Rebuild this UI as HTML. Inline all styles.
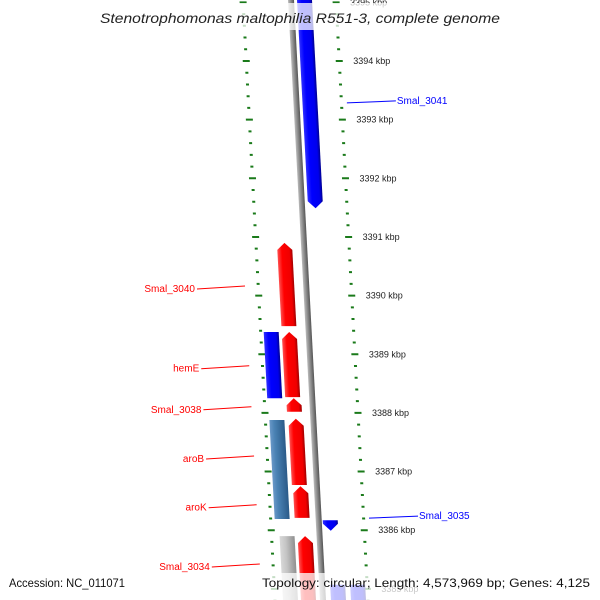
<!DOCTYPE html>
<html><head><meta charset="utf-8"><style>
html,body{margin:0;background:#fff;width:600px;height:600px;overflow:hidden}
svg{display:block;font-family:"Liberation Sans",sans-serif}
</style></head><body>
<svg id="map" width="600" height="600" viewBox="0 0 600 600">
<defs>
<clipPath id="frame"><rect x="0" y="0" width="600" height="600"/></clipPath>
<linearGradient id="gRed" x1="0" x2="1"><stop offset="0" stop-color="#ff5050"/><stop offset="0.3" stop-color="#ff0000"/><stop offset="0.8" stop-color="#f00000"/><stop offset="1" stop-color="#a00000"/></linearGradient>
<linearGradient id="gBlue" x1="0" x2="1"><stop offset="0" stop-color="#3030ff"/><stop offset="0.3" stop-color="#0000ff"/><stop offset="0.8" stop-color="#0000ee"/><stop offset="1" stop-color="#000090"/></linearGradient>
<linearGradient id="gSteel" x1="0" x2="1"><stop offset="0" stop-color="#6a98c8"/><stop offset="0.3" stop-color="#4a82b4"/><stop offset="1" stop-color="#2a5a88"/></linearGradient>
<linearGradient id="gGray" x1="0" x2="1"><stop offset="0" stop-color="#d8d8d8"/><stop offset="0.4" stop-color="#c4c4c4"/><stop offset="1" stop-color="#909090"/></linearGradient>
<linearGradient id="gBack" x1="0" x2="1"><stop offset="0" stop-color="#bbb"/><stop offset="0.5" stop-color="#888"/><stop offset="1" stop-color="#555"/></linearGradient>
</defs>
<g clip-path="url(#frame)">
<g id="skewed" transform="skewX(3.05)">
<rect x="288" y="-20" width="6" height="640" fill="url(#gBack)"/>
<g id="ticks"></g>
<g id="features"></g>
</g>
<g id="labels"></g>
</g>
<rect x="0" y="3" width="600" height="27" fill="#fff" fill-opacity="0.75"/>
<text x="100" y="23" textLength="400" lengthAdjust="spacingAndGlyphs" font-size="14" font-style="italic" fill="#222">Stenotrophomonas maltophilia R551-3, complete genome</text>
<rect x="0" y="573" width="600" height="27" fill="#fff" fill-opacity="0.75"/>
<text x="9" y="587" textLength="116" lengthAdjust="spacingAndGlyphs" font-size="12" fill="#111">Accession: NC_011071</text>
<text x="262" y="587" textLength="328" lengthAdjust="spacingAndGlyphs" font-size="12" fill="#111">Topology: circular; Length: 4,573,969 bp; Genes: 4,125</text>
</svg>
<script>
const tickMajors = [3395, 3394, 3393, 3392, 3391, 3390, 3389, 3388, 3387, 3386, 3385];
const tickLabels = ["3395 kbp","3394 kbp","3393 kbp","3392 kbp","3391 kbp","3390 kbp","3389 kbp","3388 kbp","3387 kbp","3386 kbp","3385 kbp"];
const featNames = ["Smal_3041","Smal_3040","hemE","hemE-r","Smal_3038","aroB","aroB-r","aroK","Smal_3035","Smal_3034-g","Smal_3034","bottom-a","bottom-b"];
const featStart = [3395.4, 3390.90, 3389.38, 3389.38, 3388.25, 3387.88, 3387.90, 3386.75, 3386.17, 3385.90, 3385.90, 3385.07, 3385.07];
const featEnd   = [3391.49, 3389.48, 3388.25, 3388.27, 3388.02, 3386.19, 3386.77, 3386.21, 3385.99, 3384.4, 3384.4, 3384.4, 3384.4];
const featColor = ["blue","red","blue","red","red","steel","red","red","blue","gray","red","blue","blue"];
const featStrand= [-1,1,0,1,1,0,1,1,-1,0,1,-1,-1];
const featCol   = [297,264,246,264,265,247,266,267,295,251,269,299,319];
const labelText = ["Smal_3041","Smal_3040","hemE","Smal_3038","aroB","aroK","Smal_3035","Smal_3034"];
const labelKbp  = [3393.32, 3390.13, 3388.77, 3388.07, 3387.23, 3386.40, 3386.24, 3385.39];
const labelSide = [1,-1,-1,-1,-1,-1,1,-1];

const NS="http://www.w3.org/2000/svg";
const yOf = k => 61 + (3394 - k) * 58.65;
const SK = Math.tan(3.05*Math.PI/180);
function mk(tag, attrs, parent){const e=document.createElementNS(NS,tag);for(const a in attrs)e.setAttribute(a,attrs[a]);parent.appendChild(e);return e;}
const ticks=document.getElementById('ticks'), feats=document.getElementById('features'), labels=document.getElementById('labels');

for(let i=0;i<tickMajors.length;i++){
  for(let j=0;j<5;j++){
    const k=tickMajors[i]-j*0.2, y=yOf(k), major=j===0;
    const w=major?7:3;
    let t=mk('rect',{x:243-w/2,y:y-1,width:w,height:2,fill:'#1a7a1a'},ticks);
    
    
    t=mk('rect',{x:336-w/2,y:y-1,width:w,height:2,fill:'#1a7a1a'},ticks);
    
    
  }
  const y=yOf(tickMajors[i]);
  const tx=mk('text',{x:350+SK*y,y:y+3,'font-size':9,fill:'#222'},labels);
  tx.textContent=tickLabels[i];
  
  
}
const fills={red:'url(#gRed)',blue:'url(#gBlue)',steel:'url(#gSteel)',gray:'url(#gGray)'};
for(let i=0;i<featNames.length;i++){
  const y1=yOf(featStart[i]), y2=yOf(featEnd[i]), x=featCol[i], w=15, h=7;
  let pts;
  if(featStrand[i]===1) pts=[[x,y2],[x,y1+h],[x+w/2,y1],[x+w,y1+h],[x+w,y2]];
  else if(featStrand[i]===-1) pts=[[x,y1],[x+w,y1],[x+w,y2-h],[x+w/2,y2],[x,y2-h]];
  else pts=[[x,y1],[x+w,y1],[x+w,y2],[x,y2]];
  const p=mk('polygon',{points:pts.map(q=>q.join(',')).join(' '),fill:fills[featColor[i]]},feats);
  
  
}
for(let i=0;i<labelText.length;i++){
  const y=yOf(labelKbp[i]), col=labelSide[i]>0?'#0000ff':'#ff0000';
  let x1,x2,tx;
  if(labelSide[i]>0){x1=347+SK*(y-103);x2=x1+49;
    tx=mk('text',{x:x2+1,y:y+3,'font-size':10,fill:col},labels);}
  else{x2=245+SK*(y-288);x1=x2-48;
    tx=mk('text',{x:x1-2,y:y+4,'font-size':10,fill:col,'text-anchor':'end'},labels);}
  tx.textContent=labelText[i];
  
  
  const ln=mk('line',{x1:x1,y1:labelSide[i]>0?y+2:y+1,x2:x2,y2:labelSide[i]>0?y:y-2,stroke:col,'stroke-width':1},labels);
  
  
}
</script>
</body></html>
